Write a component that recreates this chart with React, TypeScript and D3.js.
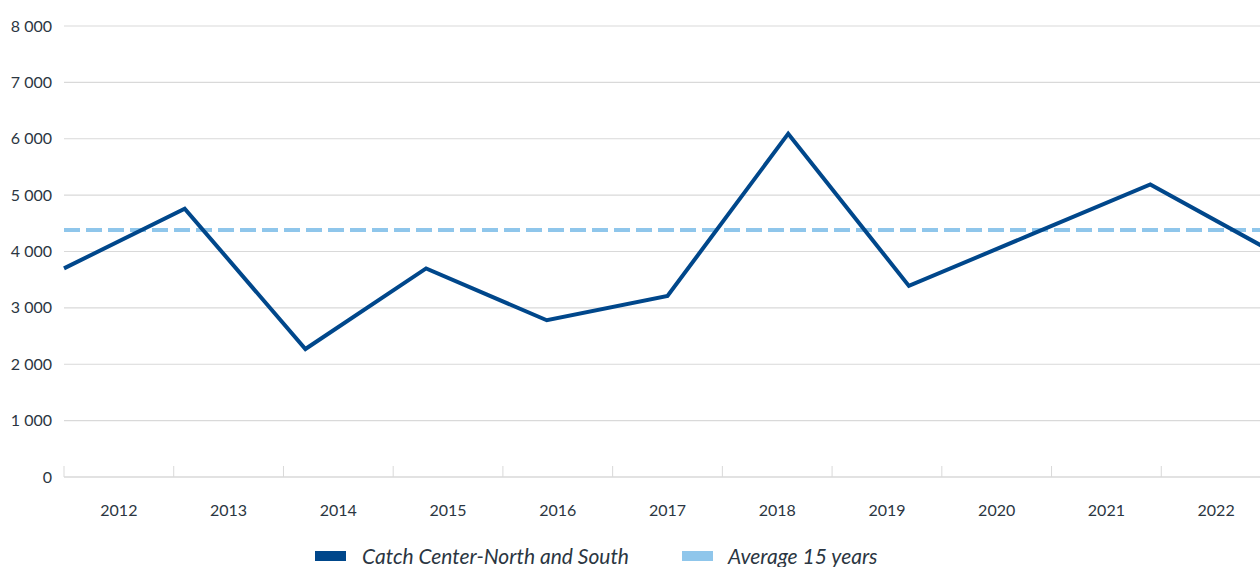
import * as d3 from "d3";

const years = ["2012", "2013", "2014", "2015", "2016", "2017", "2018", "2019", "2020", "2021", "2022"];
const catchValues = [3700, 4760, 2270, 3700, 2780, 3210, 6090, 3390, 4290, 5190, 4010];
const averageValue = 4380;
const yTicks = [0, 1000, 2000, 3000, 4000, 5000, 6000, 7000, 8000];
const seriesNames = ["Catch Center-North and South", "Average 15 years"];

const width = 1260;
const height = 567;
const marginLeft = 64;
const plotRight = 1271;
const yTop = 26;
const yBottom = 477;
const dark = "#00478b";
const light = "#8fc6eb";
const textColor = "#2b3642";
const grid = "#d9d9d9";
const font = "Lato, 'Open Sans', sans-serif";

const fmt = d3.formatLocale({ thousands: " ", grouping: [3], decimal: ",", currency: ["", ""] }).format(",");

export default function App() {
  const xBand = d3.scaleBand(years, [marginLeft, plotRight]);
  const xPoint = d3.scalePoint(years, [marginLeft, plotRight]);
  const y = d3.scaleLinear([0, 8000], [yBottom, yTop]);

  const line = d3
    .line<number>()
    .x((_, i) => xPoint(years[i])!)
    .y((d) => y(d));

  const bw = xBand.bandwidth();

  return (
    <svg
      width={width}
      height={height}
      style={{ position: "absolute", left: 0, top: 0, background: "#fff" }}
      fontFamily={font}
    >
      {/* grid + y labels */}
      {yTicks.map((t) => (
        <g key={t}>
          {t > 0 && (
            <line x1={marginLeft} x2={width} y1={y(t)} y2={y(t)} stroke={grid} strokeWidth={1.2} />
          )}
          <text x={52} y={y(t)} dy="0.35em" textAnchor="end" fontSize={16} fill={textColor}>
            {fmt(t)}
          </text>
        </g>
      ))}

      {/* x axis */}
      <line x1={marginLeft} x2={width} y1={yBottom} y2={yBottom} stroke={grid} strokeWidth={1.5} />
      {years.map((yr) => (
        <g key={yr}>
          <line
            x1={xBand(yr)!}
            x2={xBand(yr)!}
            y1={yBottom}
            y2={yBottom - 11}
            stroke={grid}
            strokeWidth={1}
          />
          <text
            x={xBand(yr)! + bw / 2}
            y={516}
            textAnchor="middle"
            fontSize={16}
            fill={textColor}
          >
            {yr}
          </text>
        </g>
      ))}

      {/* average */}
      <line
        x1={marginLeft}
        x2={plotRight}
        y1={y(averageValue)}
        y2={y(averageValue)}
        stroke={light}
        strokeWidth={4}
        strokeDasharray="16 6"
      />

      {/* catch */}
      <path d={line(catchValues)!} fill="none" stroke={dark} strokeWidth={4} strokeLinejoin="miter" />

      {/* legend */}
      <g fontSize={21} fontStyle="italic" fill={textColor}>
        <rect x={315} y={551} width={31} height={10} fill={dark} />
        <text x={362} y={564}>{seriesNames[0]}</text>
        <rect x={682} y={551} width={31} height={10} fill={light} />
        <text x={728} y={564}>{seriesNames[1]}</text>
      </g>
    </svg>
  );
}
